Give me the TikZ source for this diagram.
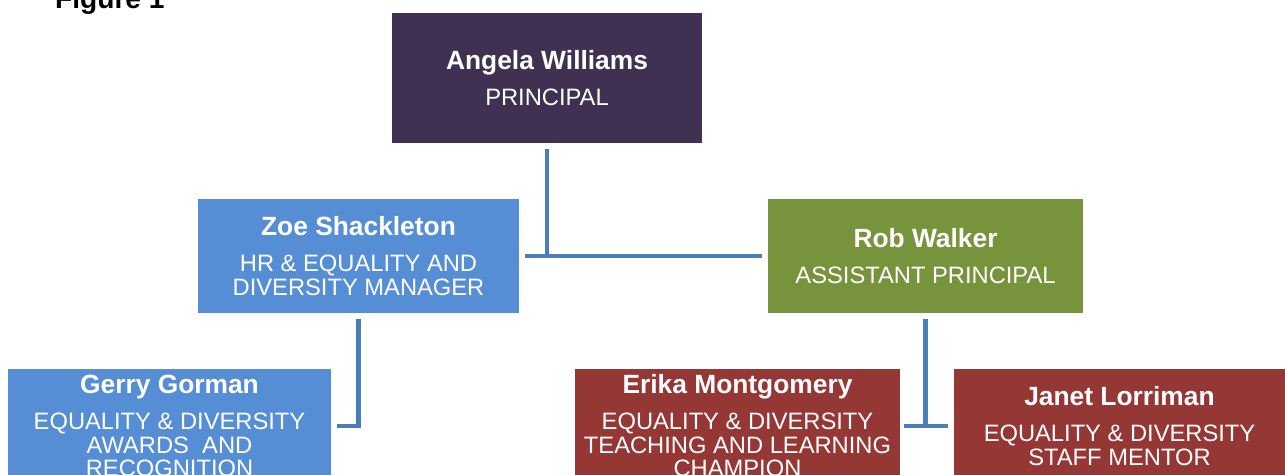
\documentclass[tikz,border=0pt]{standalone}
\usepackage{fontspec}
\setmainfont{Liberation Sans}
\usetikzlibrary{positioning}
\definecolor{chiefpurple}{RGB}{64,49,82}
\definecolor{hrblue}{RGB}{85,142,213}
\definecolor{apgreen}{RGB}{119,147,60}
\definecolor{tlred}{RGB}{149,55,53}
\definecolor{linkblue}{RGB}{74,126,187}
\newcommand{\whofont}{\fontsize{15}{18}\selectfont\bfseries}
\newcommand{\rolefont}{\fontsize{13.5}{13.4}\selectfont}

\begin{document}
\begin{tikzpicture}[x=0.02cm, y=-0.02cm,
    box/.style={
    fill=#1,
    text=white,
    align=center,
    font=\rolefont,
    inner sep=0pt,
    minimum height=2.28cm},
    link/.style={
    draw=linkblue,
    line width=2.3pt,
    shorten <=3.5pt,
    shorten >=3.5pt}]

    \useasboundingbox (0,0) rectangle (1285,475);
    \clip (0,0) rectangle (1285,475);

    \node[anchor=base west, font=\fontsize{16}{19}\selectfont\bfseries] (title) at (49,9) {Figure 1};

    \node[box=chiefpurple, minimum width=6.2cm, minimum height=2.6cm] (angela) at (547,78) {{\whofont Angela Williams}\\[7pt]PRINCIPAL};
    \node[box=hrblue, minimum width=6.42cm] (zoe) at (358.5,256) {{\whofont Zoe Shackleton}\\[7pt]HR \& EQUALITY AND\\DIVERSITY MANAGER};
    \node[box=apgreen, minimum width=6.3cm] (rob) at (925.5,256) {{\whofont Rob Walker}\\[7pt]ASSISTANT PRINCIPAL};

    \node[box=hrblue, minimum width=6.46cm] (gerry) at (169.5,426) {{\whofont Gerry Gorman}\\[7pt]EQUALITY \& DIVERSITY\\AWARDS\ \ AND\\RECOGNITION};
    \node[box=tlred, minimum width=6.5cm] (erika) at (737.5,426) {{\whofont Erika Montgomery}\\[7pt]EQUALITY \& DIVERSITY\\TEACHING AND LEARNING\\CHAMPION};
    \node[box=tlred, minimum width=6.62cm] (janet) at (1119.5,426) {{\whofont Janet Lorriman}\\[7pt]EQUALITY \& DIVERSITY\\STAFF MENTOR};

    \draw[link, shorten >=-1.15pt] (angela.south) -- (angela.south |- zoe.east);
    \draw[link] (zoe.east) -- (rob.west);
    \draw[link] (zoe.south) |- (gerry.east);
    \draw[link, shorten >=-1.15pt] (rob.south) -- (rob.south |- erika.east);
    \draw[link, shorten <=2pt] (erika.east) -- (janet.west);
\end{tikzpicture}
\end{document}
